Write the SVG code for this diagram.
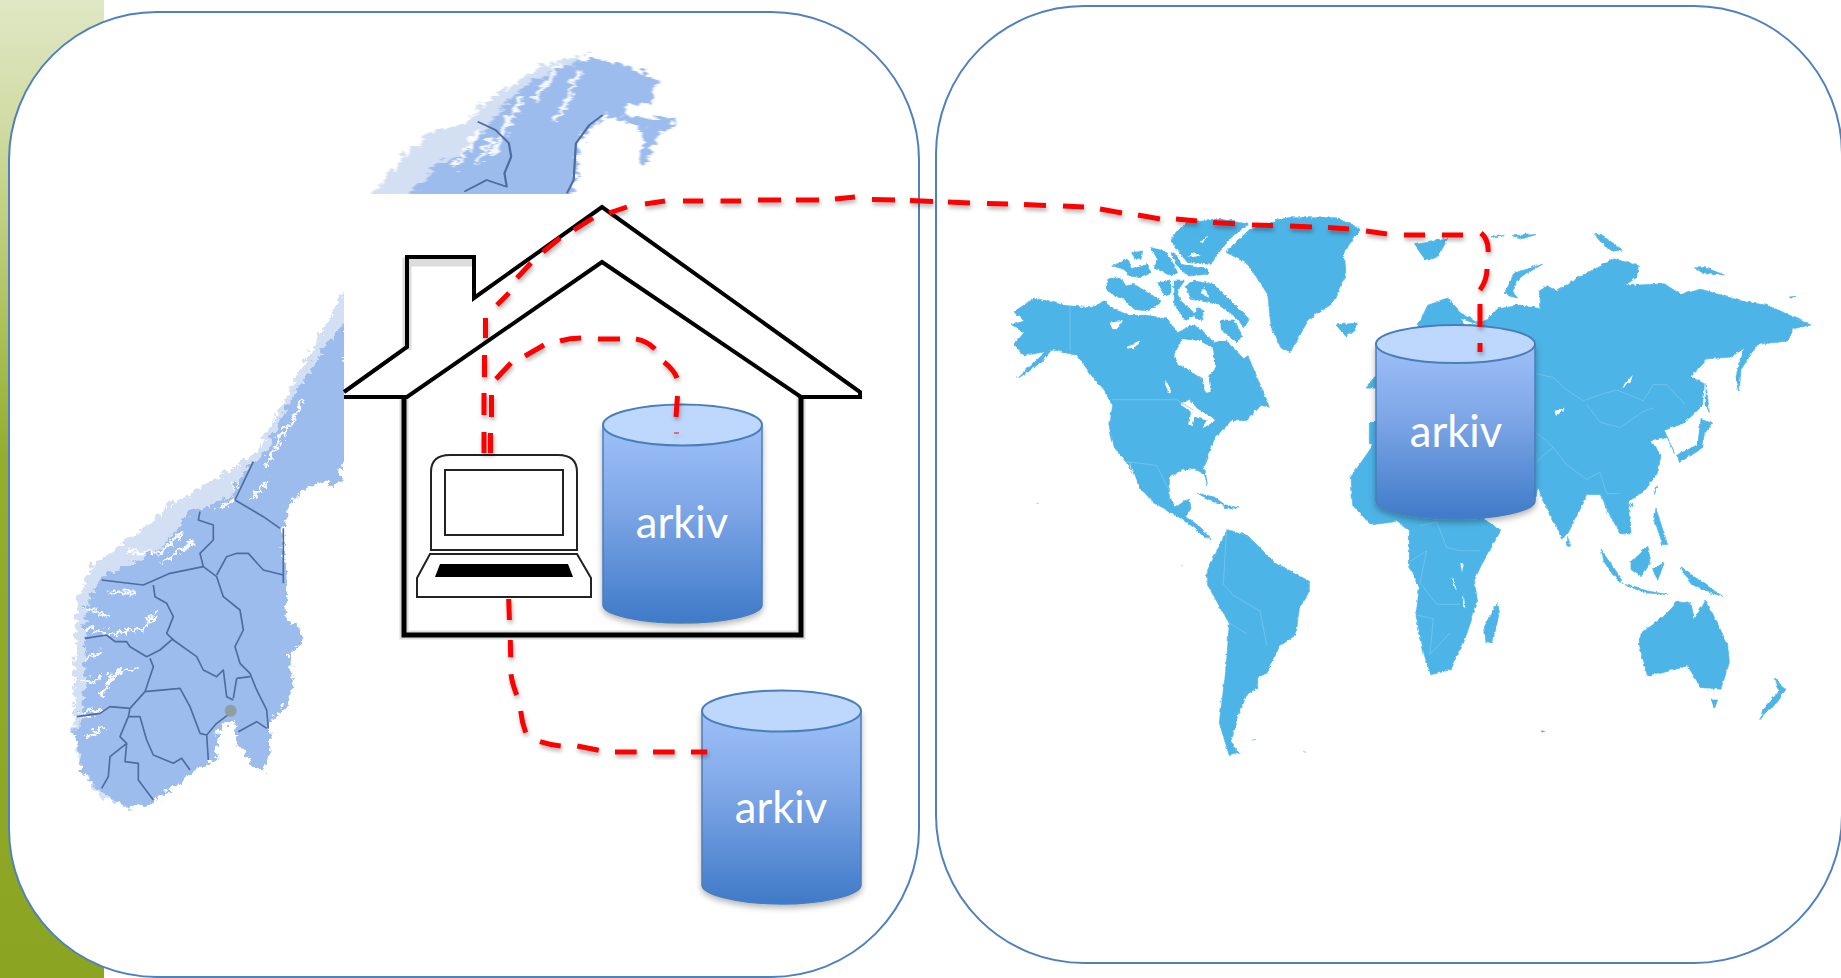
<svg xmlns="http://www.w3.org/2000/svg" width="1841" height="978" viewBox="0 0 1841 978">
<style>
.panel{fill:#fff;stroke:#4f81bd;stroke-width:2}
.no{fill:#9dbcee}
.nof{fill:#d3dff2}
.nob{fill:none;stroke:#4d6c9f;stroke-width:5;stroke-linejoin:round}
.now{fill:none;stroke:#fff;stroke-width:9;stroke-linejoin:round;stroke-linecap:round;opacity:.9}
.land{fill:#4eb4e7;stroke:#4eb4e7;stroke-width:2;stroke-linejoin:round}
.sea{fill:#fff;stroke:none}
.bd{fill:none;stroke:#7cc9f0;stroke-width:2;stroke-linejoin:round}
.hl{fill:none;stroke:#000;stroke-width:4;stroke-linejoin:miter}
.hs{fill:none;stroke:#dcdcdc;stroke-width:9}
.lp{fill:#fff;stroke:#222;stroke-width:2}
.body{fill:url(#cyl);stroke:#4a7ebb;stroke-width:1.500;filter:url(#sh)}
.top{fill:#bed7fc;stroke:#4a7ebb;stroke-width:2}
.lab{fill:#fff;font:43.500px Lato,"Open Sans",sans-serif;text-anchor:middle}
.red{fill:none;stroke:#f00;stroke-width:5;filter:url(#sh2)}
</style>
<defs>
<linearGradient id="side" x1="0" y1="0" x2="0" y2="1"><stop offset="0" stop-color="#dfe7c4"/><stop offset=".12" stop-color="#d2dca5"/><stop offset=".3" stop-color="#b3c566"/><stop offset=".47" stop-color="#93ad2c"/><stop offset="1" stop-color="#8ba523"/></linearGradient>
<linearGradient id="cyl" x1="0" y1="0" x2="0" y2="1"><stop offset="0" stop-color="#9dc0f8"/><stop offset=".4" stop-color="#80a8e8"/><stop offset="1" stop-color="#3f7ac8"/></linearGradient>
<filter id="sh" x="-10%" y="-10%" width="120%" height="120%"><feDropShadow dx="0" dy="3" stdDeviation="3" flood-color="#000" flood-opacity=".3"/></filter>
<filter id="sh2" x="-5%" y="-5%" width="110%" height="110%"><feDropShadow dx="1" dy="3" stdDeviation="2" flood-color="#000" flood-opacity=".3"/></filter>
<filter id="rn" x="-5%" y="-5%" width="110%" height="110%"><feTurbulence type="turbulence" baseFrequency=".035" numOctaves="3" seed="4"/><feDisplacementMap in="SourceGraphic" scale="34" xChannelSelector="R" yChannelSelector="G"/><feGaussianBlur stdDeviation="1.800"/></filter>
<filter id="rw" x="-3%" y="-3%" width="106%" height="106%"><feTurbulence type="turbulence" baseFrequency=".06" numOctaves="2" seed="7"/><feDisplacementMap in="SourceGraphic" scale="9" xChannelSelector="R" yChannelSelector="G"/></filter>
<filter id="rw2" x="-3%" y="-3%" width="106%" height="106%"><feTurbulence type="turbulence" baseFrequency=".09" numOctaves="2" seed="3"/><feDisplacementMap in="SourceGraphic" scale="8" xChannelSelector="R" yChannelSelector="G"/></filter>
<filter id="bl"><feGaussianBlur stdDeviation="1.200"/></filter>
</defs>

<rect id="page" width="1841" height="978" fill="#fff"/>
<rect id="side-band" width="104" height="978" fill="url(#side)"/>
<rect id="panel-left" class="panel" x="9" y="12" width="910" height="965" rx="148"/>
<rect id="panel-right" class="panel" x="936" y="6" width="906" height="957" rx="148"/>

<g id="norway-south" transform="translate(0,450) scale(.33333)">
<g filter="url(#rn)">
<path class="nof" d="M1032-500 760 0 690 50 590 110 500 160 380 260 270 340 225 440 215 700 215 850 240 960 300 1040 400 1070 450 900 700 100 900-100 1032-300Z"/>
<path d="M1032-411V30L1015 50 1015 85 985 100 940 90 880 130 860 180 840 240 855 400 850 490 895 530 895 570 860 600 870 680 860 760 810 800 800 830 805 880 780 960 740 930 700 870 700 800 650 830 640 920 570 960 460 1050 380 1070 310 1030 240 960 235 900 212 850 235 800 250 700 245 560 260 440 305 370 400 330 480 280 560 180 620 160 690 130 730 50 790 0 870-165Z" class="no"/>
<path class="now" d="M650 170 690 140M540 240 470 300 385 300M570 270 480 330M320 420 400 420M250 530 330 545 420 530 460 490M300 730 340 660 400 650M240 790 300 770M250 850 300 830M750 140 795 90M850 -70 790 40M900-150 820 -20M250 620 290 600M260 470 320 490M240 690 290 680"/>
</g>
<path filter="url(#bl)" class="nob" d="M305 390 430 405 510 370 610 350 600 310 640 270 640 225 595 210 600 185M610 350 650 380 670 440 720 480 730 540 705 590 720 640 750 670 770 720 800 780 805 835M650 375 680 320 710 310 745 310 790 360 850 375M460 405 465 440 500 460 520 500 500 550 520 570 590 620 610 660 650 680 670 660 680 740 700 750M520 565 480 600 440 620 390 590 380 575 345 575 320 555 255 565M450 625 460 650 435 725 390 775 330 770 300 790 230 800M435 725 540 715 570 770 600 850 620 855 650 820 690 790M390 775 385 800 420 800 440 870 460 915 520 940 545 925 570 960M385 800 360 860 380 880 330 920 325 980 305 1015M380 880 375 935 415 940 415 990 460 1050M620 855 625 930M705 150 790 200 840 235M705 150 760 35M710 685 750 680M710 685 700 745M715 845 770 815 800 835M850 235V400"/>
<circle cx="692" cy="782" r="18" fill="#8f9e9e"/>
</g>
<g id="norway-north" transform="scale(.44643,.33333)">
<g filter="url(#rn)">
<path class="nof" d="M810 600 880 490 950 390 1030 360 1090 290 1170 220 1240 170 1300 160 1280 400 1000 600Z"/>
<path class="no" d="M900 600 960 500 1040 440 1130 300 1180 240 1240 200 1320 165 1400 190 1470 240 1450 300 1390 310 1390 340 1500 350 1505 380 1470 385 1450 450 1435 490 1425 480 1430 430 1440 390 1400 360 1350 340 1310 380 1290 430 1285 530 1270 600Z"/>
<path class="now" style="stroke-width:10" d="M1240 350 1290 210M1190 290 1250 180M1100 450 1160 290M1010 500 1060 390M1060 480 1100 410"/>
</g>
<path filter="url(#bl)" class="nob" d="M1070 365 1110 390 1140 430 1145 470 1130 520 1135 560 1090 540 1040 575M1350 345 1320 375 1290 430 1285 540 1270 580"/>
</g>
<rect id="norway-mask" x="344" y="194" width="526" height="450" fill="#fff"/>

<g id="world-west" transform="translate(980,190) scale(.33333,.38265)">
<g filter="url(#rw)">
<path class="land" d="M100 315 160 280 260 300 330 305 370 290 400 310 450 325 500 325 560 335 590 370 640 350 700 395 740 395 790 440 800 430 840 510 865 565 840 560 800 600 750 600 700 650 680 700 670 720 680 770 670 740 640 725 600 730 565 750 565 800 585 825 625 805 630 830 615 850 660 880 690 910 670 905 640 880 590 850 520 815 480 780 440 710 400 670 385 620 395 560 370 520 330 480 290 430 215 415 180 450 110 490 170 440 195 420 130 430 100 400 130 370 90 350 130 340Z"/>
<path class="sea" d="M630 575 600 560 625 545 650 570 690 590 705 600 665 620 680 600 640 590 635 615 625 610ZM555 495 570 520 565 530 552 505ZM445 705 480 785 470 780Z"/>
<path class="land" d="M735 160 810 100 920 70 1070 70 1140 100 1090 160 1095 220 1060 290 980 340 930 420 900 410 870 350 860 270 800 190ZM1065 350 1130 345 1125 365 1095 380ZM680 990 740 885 800 900 880 970 985 1020 985 1050 955 1090 945 1160 895 1190 860 1260 830 1270 830 1300 795 1320 770 1380 750 1440 775 1470 745 1475 715 1390 735 1250 745 1130 680 1030ZM650 790 700 800 740 825 690 810ZM730 820 775 828 730 830ZM1155 515 1185 485 1185 515ZM1165 610 1190 600 1190 665 1165 660Z"/>
</g>
<path class="land" d="M170 820 176 818M604 980 608 982M815 1438 828 1436M970 1467 978 1470" stroke-width="5"/>
<path class="bd" d="M270 300V420M395 548H590L640 575M440 710 530 720 570 790M740 885 730 1030 760 1060M760 1060 840 1100 860 1190M745 1130 800 1160"/>
</g>
<g id="world-canada" transform="translate(1000,200) scale(.33333)">
<g filter="url(#rw2)">
<path class="sea" d="M520 460 545 415 600 420 635 440 645 500 625 525 632 572 615 575 605 535 560 505 530 490ZM325 365 365 360 350 385 335 385ZM375 440 420 420 400 445ZM495 540 510 575 500 575Z"/>
<path class="land" d="M315 265 325 232 360 232 375 255 400 250 440 275 480 300 470 315 440 330 400 325 370 295 340 285ZM335 195 380 175 395 205 440 190 450 215 420 230 385 225 370 205ZM395 155 425 150 420 175 400 175ZM450 140 490 150 510 175 530 215 510 225 490 215 460 200 470 175ZM510 155 530 165 540 190 620 205 625 220 560 225 530 195ZM510 120 530 90 560 65 660 55 745 70 690 110 650 160 630 190 560 185 540 160ZM555 255 580 240 640 250 680 290 745 355 730 380 700 345 650 310 600 300 570 295ZM470 245 510 240 510 280 490 285ZM520 240 550 240 530 270 540 300 585 340 555 360 520 310ZM590 320 610 330 605 360 580 350ZM660 360 700 360 725 405 710 425 660 385ZM575 380 610 390 595 410ZM640 425 700 470 690 440 680 420Z"/>
<path class="sea" d="M575 105 600 125 625 100 605 130ZM575 155 600 165 560 170ZM500 300 515 340 505 335ZM610 260 625 290 600 280ZM640 340 655 350 645 355Z"/>
</g>
</g>
<g id="world-east" transform="translate(1380,190) scale(.33333,.35714)">
<g filter="url(#rw)">
<path class="land" d="M-15 700-90 800-85 880-30 935 50 925 85 950 85 1050 115 1110 105 1190 130 1300 150 1355 210 1340 250 1260 290 1150 280 1090 300 1050 360 950 310 920 300 800Z"/>
<path class="land" d="M100 400 110 380 140 320 200 300 240 340 290 370 320 360 350 330 420 320 480 330 475 280 500 265 530 280 600 240 700 190 775 210 770 240 730 265 850 260 900 290 960 275 1090 310 1160 320 1290 375 1240 385 1220 420 1130 430 1080 500 1075 560 1065 520 1090 440 1050 465 980 470 930 520 970 540 965 600 910 650 850 670 880 735 860 690 810 700 840 740 830 790 790 840 745 870 750 960 720 960 680 900 660 850 620 850 560 960 545 975 505 900 470 830 465 860 300 800Z"/>
<path class="sea" d="M240 358 270 368 300 374 255 375ZM520 615 555 610 525 630ZM720 555 755 515 750 535ZM238 1045 248 1045 243 1068ZM215 1080 228 1120 218 1105ZM248 1130 253 1170 246 1160Z"/>
<path class="land" d="M370 290 400 230 485 205 420 240 395 280 410 300ZM100 150 200 135 170 185 135 195ZM330 128 370 125 340 132ZM395 125 465 122 420 135ZM640 120 665 125 725 165 690 170ZM940 215 975 215 1030 235 970 232ZM1225 297 1245 295 1230 300ZM975 540 985 620 975 600ZM960 640 995 650 970 680 965 720 895 760 890 740 950 710ZM830 825 820 850 825 830ZM750 875 760 880 750 885ZM825 890 860 990 845 990 820 920ZM750 1040 800 995 810 1040 780 1080 750 1060ZM660 1005 725 1090 720 1100 670 1040ZM725 1100 800 1120 860 1130 790 1125ZM815 1060 850 1040 830 1090ZM900 1055 1025 1135 970 1120 930 1100ZM780 1240 850 1190 890 1150 930 1155 940 1200 975 1145 1040 1270 1045 1320 1020 1395 960 1390 920 1330 800 1360 775 1270ZM990 1425 1010 1425 1000 1450ZM1180 1365 1215 1395 1190 1430 1140 1480 1150 1450 1195 1400ZM350 1155 355 1180 335 1265 315 1265 310 1220ZM560 970 570 995 560 995ZM480 1512 492 1512 486 1516Z"/>
</g>
<path class="bd" d="M470 515 520 525 560 560 610 590 670 570 710 560 790 590 820 545 860 545 915 600M620 600 660 650 720 665 790 620 820 610M470 680 520 720 560 770 620 810 660 790 680 850 720 850M470 760 520 720M660 850 700 930M120 940 170 930 200 1000 240 1010 300 1010M90 1040 140 1010 120 1100 170 1160 240 1160M110 1190 160 1200 150 1300 210 1240"/>
</g>

<g id="house">
<path class="hs" d="M407 350V262H474M404 397V635H801V397"/>
<path class="hl" d="M344 392 407 347V257H474V298L602 207 860 392V397H801L602 262 407 397H344"/>
<path class="hl" style="stroke-width:5" d="M404 397V635H801V397"/>
</g>
<g id="laptop">
<path class="lp" d="M431 550V472Q431 455 450 455H558Q577 455 577 472V550Z"/>
<rect class="lp" x="445" y="470" width="118" height="65"/>
<path class="lp" d="M430 554H577L591 578V597H417V578Z"/>
<path d="M440 564H568L573 577H435Z" fill="#000"/>
</g>

<g id="arkiv-1">
<path class="body" d="M603 425V605C603 615 640 623 682 623S762 615 762 605V425Z"/>
<ellipse class="top" cx="682.500" cy="425" rx="79.500" ry="20.500"/>
<text class="lab" x="682" y="538">arkiv</text>
</g>
<g id="arkiv-2">
<path class="body" d="M702 711V885C702 895 740 904 781.500 904S861 895 861 885V711Z"/>
<ellipse class="top" cx="781.500" cy="711" rx="79.500" ry="20.500"/>
<text class="lab" x="781" y="823">arkiv</text>
</g>
<g id="arkiv-3">
<path class="body" d="M1376 344V501C1376 511 1414 519 1455.500 519S1535 511 1535 501V344Z"/>
<ellipse class="top" cx="1455.500" cy="344" rx="79.500" ry="19"/>
<text class="lab" x="1456" y="447">arkiv</text>
</g>

<g id="connectors">
<path class="red" d="M484 453V432M484 415V393M484.500 377V355M485.500 338V318M497 305 509 293M517 278 531 263M543 252 560 238M574 230 593 218M609 213 627 207M645 204 665 201M683 201H703M720.500 201H741M758 200H781M796 200H819M835 199 855 197M872 199.500 895 200M910 200.500 933 201.500M948 202 970 203M987 203.500 1008 204M1024 204.500 1046 205.500M1063 206 1084 207M1100 209 1122 213M1138 215 1160 219M1176 219 1197 221M1213 222.500 1235 223.700M1252 225 1273 225.600M1290 226 1312 227M1328 227.500 1349 229M1366 231 1387 234M1404 235H1425M1442 235H1463M1481 233Q1489 240 1488 252M1487 269Q1487 280 1480 290M1480 304V327M1480 343V352"/>
<path class="red" d="M490.500 453V433M491.500 417V395M496 379 511 363M525 356 544 345M560 341Q570 338 581 338M598 339H620M636 339Q647 341 655 349M664 362Q674 370 677 378M677.500 396 676 417M676.500 432.500V433.500"/>
<path class="red" d="M508.700 599 509.400 620M510.300 640 510.700 657.300M511 674.300Q512 683 516.700 695M520.700 711Q522 723 525.700 732.700M540 741.700Q550 745 560.700 746M577.300 746 598.700 750.300M615 752H636.700M653 752H674.700M691 752H707.300"/>
</g>
</svg>
